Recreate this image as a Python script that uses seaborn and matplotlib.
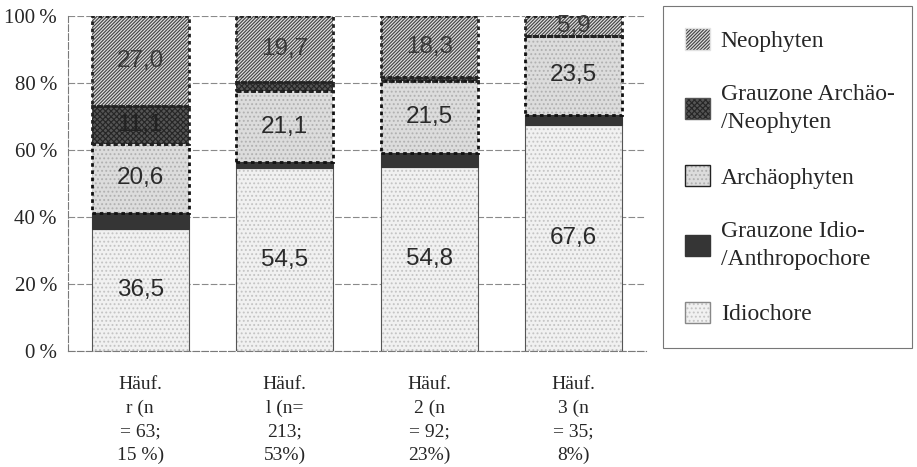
import matplotlib
matplotlib.use("Agg")
import matplotlib.pyplot as plt
import seaborn as sns
from matplotlib.patches import Patch
from matplotlib.ticker import FixedLocator

# ---------------- data ----------------
categories = ["r", "1", "2", "3"]
x_labels = ["Häuf.\nr (n\n= 63;\n15 %)",
            "Häuf.\nl (n=\n213;\n53%)",
            "Häuf.\n2 (n\n= 92;\n23%)",
            "Häuf.\n3 (n\n= 35;\n8%)"]
idiochore = [36.5, 54.5, 54.8, 67.6]
grauzone_idio = [4.8, 1.9, 4.3, 2.9]
archaeophyten = [20.6, 21.1, 21.5, 23.5]
grauzone_archaeo = [11.1, 2.8, 1.1, 0.0]
neophyten = [27.0, 19.7, 18.3, 5.9]
series_names = ["Idiochore", "Grauzone Idio-\n/Anthropochore", "Archäophyten",
                "Grauzone Archäo-\n/Neophyten", "Neophyten"]
series_values = [idiochore, grauzone_idio, archaeophyten, grauzone_archaeo, neophyten]
y_ticks = [0, 20, 40, 60, 80, 100]
y_tick_labels = ["0\u2009%", "20\u2009%", "40\u2009%", "60\u2009%", "80\u2009%", "100\u2009%"]

# ---------------- styles ----------------
styles = [
    dict(face="#f1f1f1", hatch="....", hcol="#c4c4c4", edge="#555555", ls="-", lw=0.8, text="#2a2a2a"),
    dict(face="#353535", hatch=None, hcol=None, edge="#353535", ls="-", lw=0.8, text="#2a2a2a"),
    dict(face="#dcdcdc", hatch="....", hcol="#b0b0b0", edge="#111111", ls=(0, (1.3, 1.3)), lw=2.0, text="#2a2a2a"),
    dict(face="#555555", hatch="xxxxxx", hcol="#262626", edge="#222222", ls=(0, (1.3, 1.3)), lw=2.0, text="#222222"),
    dict(face="#e2e2e2", hatch="//////////", hcol="#454545", edge="#222222", ls=(0, (1.3, 1.3)), lw=2.0, text="#3a3a3a"),
]

sns.set_style("white")
plt.rcParams["hatch.linewidth"] = 0.85
serif = ["Liberation Serif", "DejaVu Serif"]
sans = ["Liberation Sans", "DejaVu Sans"]
plt.rcParams["font.family"] = serif

fig = plt.figure(figsize=(9.17, 4.67), dpi=100)
ax = fig.add_axes([68 / 917, 1 - 351 / 467, (646 - 68) / 917, (351 - 16) / 467])

bar_w = 0.67
bottoms = []
cum = [0.0] * len(categories)
for vals in series_values:
    bottoms.append(list(cum))
    cum = [c + v for c, v in zip(cum, vals)]

# fills
for vals, bot, st in zip(series_values, bottoms, styles):
    sns.barplot(x=categories, y=vals, order=categories, bottom=bot, color=st["face"],
                saturation=1, width=bar_w, ax=ax, zorder=2)
    for p in ax.containers[-1]:
        p.set_facecolor(st["face"])
        p.set_linewidth(0)
        p.set_edgecolor(st["face"])
    if st["hatch"]:
        sns.barplot(x=categories, y=vals, order=categories, bottom=bot, color=st["face"],
                    saturation=1, width=bar_w, ax=ax, zorder=2.1)
        for p in ax.containers[-1]:
            p.set_facecolor("none")
            p.set_edgecolor(st["hcol"])
            p.set_linewidth(0)
            p.set_hatch(st["hatch"])
# borders
for vals, bot, st in zip(series_values, bottoms, styles):
    sns.barplot(x=categories, y=vals, order=categories, bottom=bot, color=st["face"],
                saturation=1, width=bar_w, ax=ax, zorder=2.5)
    for p in ax.containers[-1]:
        p.set_facecolor("none")
        p.set_edgecolor(st["edge"])
        p.set_linewidth(st["lw"])
        p.set_linestyle(st["ls"])

# value labels
for vals, bot, st in zip(series_values, bottoms, styles):
    for i, (v, b) in enumerate(zip(vals, bot)):
        if v >= 5:
            ax.text(i, b + v / 2, f"{v:.1f}".replace(".", ","), ha="center", va="center",
                    fontsize=17.5, family=sans, color=st["text"], zorder=4)

# axes styling
ax.set_xlim(-0.5, 3.5)
ax.set_ylim(0, 100)
ax.set_xlabel("")
ax.set_ylabel("")
ax.set_axisbelow(True)
ax.yaxis.set_major_locator(FixedLocator(y_ticks))
ax.set_yticklabels(y_tick_labels, fontsize=15, family=serif)
ax.grid(axis="y", color="#8a8a8a", linestyle=(0, (6, 2)), linewidth=0.8, zorder=0)
ax.grid(axis="x", visible=False)
ax.xaxis.set_major_locator(FixedLocator([0, 1, 2, 3]))
ax.set_xticklabels(x_labels, fontsize=14, family=serif, linespacing=1.5)
ax.xaxis.set_minor_locator(FixedLocator([0.5, 1.5, 2.5, 3.5]))
ax.tick_params(axis="x", which="major", length=0, pad=18)
ax.tick_params(axis="x", which="minor", length=7, direction="inout", color="#666666", width=0.8)
ax.tick_params(axis="y", which="major", length=4, direction="out", color="#8a8a8a", width=0.8, pad=4)
for s in ["top", "right"]:
    ax.spines[s].set_visible(False)
for s in ["left", "bottom"]:
    ax.spines[s].set_color("#7a7a7a")
    ax.spines[s].set_linewidth(0.8)
    ax.spines[s].set_linestyle((0, (6, 2)))

# legend
handles = []
for st in styles:
    parts = [Patch(facecolor=st["face"], edgecolor=st["face"], linewidth=0)]
    if st["hatch"]:
        parts.append(Patch(facecolor="none", edgecolor=st["hcol"], linewidth=0, hatch=st["hatch"]))
    edge = "#222222" if st is styles[2] else st["face"]
    if st is styles[0]:
        edge = "#888888"
    parts.append(Patch(facecolor="none", edgecolor=edge, linewidth=1.0))
    handles.append(tuple(parts))
leg = fig.legend(handles[::-1], series_names[::-1], loc="upper left",
                 bbox_to_anchor=(663 / 917, 1 - 6 / 467, (912 - 663) / 917, 0.0),
                 mode="expand", borderaxespad=0, borderpad=0.95, labelspacing=1.35,
                 handlelength=1.05, handleheight=1.0, handletextpad=0.45,
                 fancybox=False, frameon=True, prop={"family": serif, "size": 17})
for t in leg.get_texts():
    t.set_linespacing(1.45)
leg.get_frame().set_edgecolor("#555555")
leg.get_frame().set_linewidth(0.8)

fig.savefig("out.png", dpi=100)
